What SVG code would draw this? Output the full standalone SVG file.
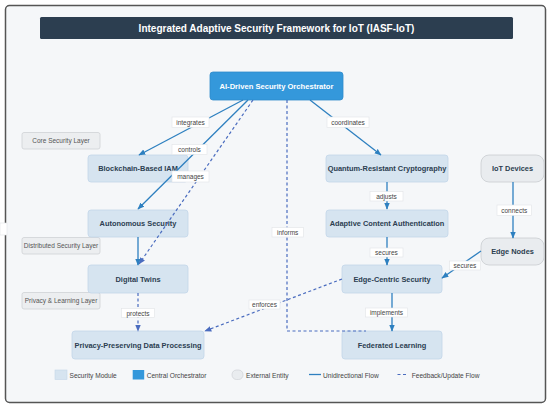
<svg xmlns="http://www.w3.org/2000/svg" width="550" height="409" viewBox="0 0 550 409">
<style>
.t{font-family:"Liberation Sans",Arial,sans-serif}
.node rect{fill:#d6e4f0;stroke:#c3d6e8;stroke-width:0.8}
.node text{font-family:"Liberation Sans",Arial,sans-serif;font-weight:bold;font-size:7.4px;fill:#2c3e50;text-anchor:middle;dominant-baseline:central}
.ext rect{fill:#e9ecef;stroke:#c9cdd1;stroke-width:0.8}
.layer rect{fill:#eceef0;stroke:#cfd2d5;stroke-width:0.8}
.layer text{font-family:"Liberation Sans",Arial,sans-serif;font-size:6.5px;fill:#555;text-anchor:middle;dominant-baseline:central}
.lbl rect{fill:#fff;stroke:#e2e4e6;stroke-width:0.6}
.lbl text{font-family:"Liberation Sans",Arial,sans-serif;font-size:6.5px;fill:#444;text-anchor:middle;dominant-baseline:central}
.solid{fill:none;stroke:#2e80c0;stroke-width:1.3;marker-end:url(#arr)}
.dash{fill:none;stroke:#4a6cbf;stroke-width:1.2;stroke-dasharray:3,2.5;marker-end:url(#arrd)}
.leg text{font-family:"Liberation Sans",Arial,sans-serif;font-size:6.6px;fill:#444;dominant-baseline:central}
</style>
<defs>
<marker id="arr" viewBox="0 0 10 10" refX="9" refY="5" markerWidth="7" markerHeight="7" markerUnits="userSpaceOnUse" orient="auto"><path d="M0,1 L10,5 L0,9 z" fill="#2e80c0"/></marker>
<marker id="arrd" viewBox="0 0 10 10" refX="9" refY="5" markerWidth="7" markerHeight="7" markerUnits="userSpaceOnUse" orient="auto"><path d="M0,1 L10,5 L0,9 z" fill="#4a6cbf"/></marker>
</defs>
<rect x="5.5" y="5.5" width="540" height="397" rx="4" fill="#f5f7f9" stroke="#555" stroke-width="1.5"/>
<rect x="0" y="223" width="7" height="12" fill="#fff" stroke="#e2e4e6" stroke-width="0.6"/>
<g id="title">
<rect x="40" y="17" width="473" height="22" rx="1.5" fill="#2c3e50"/>
<text class="t" x="276.5" y="28" font-size="10" font-weight="bold" fill="#fff" text-anchor="middle" dominant-baseline="central">Integrated Adaptive Security Framework for IoT (IASF-IoT)</text>
</g>
<g id="layers">
<g class="layer" id="layer-core"><rect x="22" y="132.5" width="78" height="16.5" rx="2"/><text x="61" y="140.8">Core Security Layer</text></g>
<g class="layer" id="layer-dist"><rect x="22" y="237.5" width="78" height="16.5" rx="2"/><text x="61" y="245.8">Distributed Security Layer</text></g>
<g class="layer" id="layer-priv"><rect x="22" y="292.5" width="78" height="16.5" rx="2"/><text x="61" y="300.8">Privacy &amp; Learning Layer</text></g>
</g>
<g id="orchestrator"><rect x="210" y="72" width="133" height="28" rx="3" fill="#3498db" stroke="#2f8bcb" stroke-width="0.8"/><text class="t" x="276.5" y="86" font-size="7.6" font-weight="bold" fill="#fff" text-anchor="middle" dominant-baseline="central">AI-Driven Security Orchestrator</text></g>
<g class="node" id="blockchain"><rect x="88" y="155" width="100" height="27" rx="3"/><text x="138" y="168.5">Blockchain-Based IAM</text></g>
<g class="node" id="quantum"><rect x="326" y="155" width="122" height="27" rx="3"/><text x="387" y="168.5">Quantum-Resistant Cryptography</text></g>
<g class="node ext" id="iot"><rect x="481" y="155" width="63" height="27" rx="8"/><text x="512.5" y="168.5">IoT Devices</text></g>
<g class="node" id="autonomous"><rect x="88" y="210" width="100" height="27" rx="3"/><text x="138" y="223.5">Autonomous Security</text></g>
<g class="node" id="adaptive"><rect x="326" y="210" width="122" height="27" rx="3"/><text x="387" y="223.5">Adaptive Content Authentication</text></g>
<g class="node ext" id="edgenodes"><rect x="481" y="238" width="63" height="27" rx="8"/><text x="512.5" y="251.5">Edge Nodes</text></g>
<g class="node" id="twins"><rect x="88" y="265" width="100" height="28" rx="3"/><text x="138" y="279">Digital Twins</text></g>
<g class="node" id="edgecentric"><rect x="342" y="265" width="100" height="28" rx="3"/><text x="392" y="279">Edge-Centric Security</text></g>
<g class="node" id="ppdp"><rect x="72" y="331" width="132" height="28" rx="3"/><text x="138" y="345">Privacy-Preserving Data Processing</text></g>
<g class="node" id="federated"><rect x="342" y="331" width="100" height="28" rx="3"/><text x="392" y="345">Federated Learning</text></g>
<g id="connectors">
<path class="solid" d="M243,100 L139,155"/>
<path class="solid" d="M248,100 L138,209"/>
<path class="dash" d="M253,100 L139,264"/>
<path class="dash" d="M287,100 V331 H366" style="marker-end:none"/>
<path class="solid" d="M310,100 L381,155"/>
<path class="solid" d="M387,182 V209"/>
<path class="solid" d="M387,237 V265"/>
<path class="solid" d="M392,293 V331"/>
<path class="solid" d="M513,182 V238"/>
<path class="solid" d="M481,251 L442,278"/>
<path class="dash" d="M138,293 V331"/>
<path class="dash" d="M342,279 L205,331"/>
<path class="solid" d="M138,237 V265"/>
<g class="lbl"><rect x="172" y="117" width="37" height="10.5"/><text x="190.5" y="122.3">integrates</text></g>
<g class="lbl"><rect x="172" y="144.5" width="35" height="10"/><text x="189.5" y="149.5">controls</text></g>
<g class="lbl"><rect x="172" y="171" width="37" height="11"/><text x="190.5" y="176.5">manages</text></g>
<g class="lbl"><rect x="327" y="117" width="42" height="10.5"/><text x="348" y="122.3">coordinates</text></g>
<g class="lbl"><rect x="272" y="227.5" width="31.5" height="9.5"/><text x="287.7" y="232.2">informs</text></g>
<g class="lbl"><rect x="370" y="191.5" width="33" height="9.5"/><text x="386.5" y="196.2">adjusts</text></g>
<g class="lbl"><rect x="370" y="248" width="33" height="9"/><text x="386.5" y="252.5">secures</text></g>
<g class="lbl"><rect x="497" y="205" width="34.5" height="10.5"/><text x="514.2" y="210.3">connects</text></g>
<g class="lbl"><rect x="449.5" y="261" width="31" height="9"/><text x="465" y="265.5">secures</text></g>
<g class="lbl"><rect x="365.5" y="308" width="42" height="9"/><text x="386.5" y="312.5">implements</text></g>
<g class="lbl"><rect x="121.5" y="308.5" width="33" height="9"/><text x="138" y="313">protects</text></g>
<g class="lbl"><rect x="249" y="300" width="31" height="9"/><text x="264.5" y="304.5">enforces</text></g>
</g>
<g class="leg" id="legend">
<rect x="55" y="370" width="12" height="9.5" fill="#d6e4f0" stroke="#c3d6e8" stroke-width="0.6"/><text x="69.5" y="375">Security Module</text>
<rect x="132.7" y="370" width="11.5" height="9.5" fill="#3498db"/><text x="146.7" y="375">Central Orchestrator</text>
<rect x="232" y="370" width="11" height="9.5" rx="4.5" fill="#e9ecef" stroke="#c9cdd1" stroke-width="0.6"/><text x="246" y="375">External Entity</text>
<line x1="309" y1="374.5" x2="321" y2="374.5" stroke="#2e80c0" stroke-width="1.3"/><text x="323" y="375">Unidirectional Flow</text>
<line x1="397.5" y1="374.5" x2="407" y2="374.5" stroke="#4a6cbf" stroke-width="1.2" stroke-dasharray="3,2.5"/><text x="411.7" y="375">Feedback/Update Flow</text>
</g>
</svg>
